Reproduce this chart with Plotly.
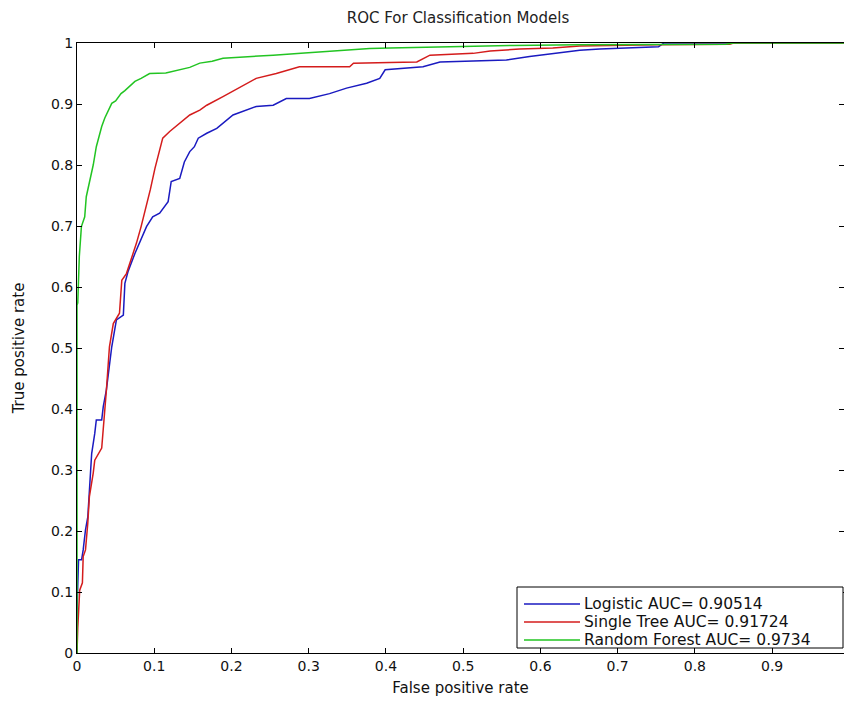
import plotly.graph_objects as go

# ---- data ----
logistic_fpr = [0, 0, 0.002, 0.006, 0.008, 0.011, 0.014, 0.016, 0.019, 0.023, 0.025, 0.032, 0.034, 0.038,
                0.042, 0.045, 0.051, 0.060, 0.062, 0.066, 0.075, 0.083, 0.090, 0.098, 0.107, 0.118, 0.122,
                0.133, 0.139, 0.146, 0.152, 0.157, 0.168, 0.181, 0.202, 0.232, 0.254, 0.271, 0.301, 0.327,
                0.349, 0.375, 0.392, 0.399, 0.418, 0.448, 0.470, 0.556, 0.586, 0.617, 0.651, 0.677, 0.720,
                0.753, 0.76, 1.0]
logistic_tpr = [0, 0.07, 0.153, 0.153, 0.169, 0.202, 0.223, 0.267, 0.327, 0.360, 0.382, 0.382, 0.404, 0.431,
                0.469, 0.502, 0.546, 0.554, 0.606, 0.625, 0.655, 0.677, 0.699, 0.715, 0.721, 0.740, 0.773,
                0.778, 0.805, 0.822, 0.830, 0.844, 0.852, 0.860, 0.882, 0.896, 0.898, 0.909, 0.909, 0.917,
                0.926, 0.934, 0.942, 0.956, 0.958, 0.961, 0.969, 0.972, 0.978, 0.983, 0.988, 0.990, 0.992,
                0.994, 1.0, 1.0]

tree_fpr = [0, 0.001, 0.0035, 0.007, 0.008, 0.011, 0.014, 0.016, 0.021, 0.023, 0.032, 0.034, 0.036, 0.038,
            0.042, 0.047, 0.055, 0.058, 0.064, 0.070, 0.077, 0.083, 0.090, 0.095, 0.101, 0.107, 0.111, 0.120,
            0.133, 0.146, 0.159, 0.168, 0.189, 0.209, 0.232, 0.258, 0.280, 0.288, 0.353, 0.358, 0.405, 0.44,
            0.457, 0.513, 0.535, 0.573, 0.616, 0.651, 0.75, 0.845, 0.85, 1.0]
tree_tpr = [0, 0.041, 0.103, 0.115, 0.158, 0.169, 0.213, 0.256, 0.295, 0.316, 0.336, 0.366, 0.409, 0.430,
            0.502, 0.540, 0.557, 0.611, 0.622, 0.644, 0.672, 0.699, 0.734, 0.760, 0.795, 0.822, 0.844, 0.855,
            0.868, 0.882, 0.890, 0.898, 0.912, 0.926, 0.942, 0.950, 0.958, 0.961, 0.961, 0.967, 0.968, 0.969,
            0.980, 0.983, 0.987, 0.990, 0.992, 0.995, 0.997, 0.998, 1.0, 1.0]

forest_fpr = [0, 0, 0.001, 0.003, 0.0057, 0.010, 0.012, 0.015, 0.019, 0.021, 0.025, 0.029, 0.032, 0.036,
              0.042, 0.045, 0.050, 0.057, 0.062, 0.070, 0.075, 0.083, 0.094, 0.115, 0.133, 0.146, 0.159,
              0.175, 0.189, 0.22, 0.254, 0.29, 0.319, 0.35, 0.379, 0.405, 0.45, 0.5, 0.565, 0.65, 0.75,
              0.84, 0.85, 1.0]
forest_tpr = [0, 0.57, 0.574, 0.65, 0.699, 0.715, 0.748, 0.765, 0.786, 0.800, 0.830, 0.850, 0.863, 0.877,
              0.895, 0.901, 0.905, 0.917, 0.922, 0.931, 0.937, 0.942, 0.950, 0.951, 0.956, 0.960, 0.967,
              0.970, 0.975, 0.977, 0.980, 0.983, 0.986, 0.988, 0.991, 0.992, 0.993, 0.995, 0.996, 0.997,
              0.998, 0.998, 1.0, 1.0]

series_names = ["Logistic AUC= 0.90514", "Single Tree AUC= 0.91724", "Random Forest AUC= 0.9734"]
series_colors = ["#1a1ac0", "#d41c1c", "#22c422"]

x_ticks = [0, 0.1, 0.2, 0.3, 0.4, 0.5, 0.6, 0.7, 0.8, 0.9]
x_tick_labels = ["0", "0.1", "0.2", "0.3", "0.4", "0.5", "0.6", "0.7", "0.8", "0.9"]
y_ticks = [0, 0.1, 0.2, 0.3, 0.4, 0.5, 0.6, 0.7, 0.8, 0.9, 1.0]
y_tick_labels = ["0", "0.1", "0.2", "0.3", "0.4", "0.5", "0.6", "0.7", "0.8", "0.9", "1"]

FONT = "DejaVu Sans, Liberation Sans, Arial, sans-serif"

# plot-area geometry (pixels) used to place the legend box in paper coordinates
W, H = 844, 707
ML, MR, MT, MB = 77, 0, 43, 54
PW, PH = W - ML - MR, H - MT - MB


def px_x(px):
    return (px - ML) / PW


def px_y(py):
    return (H - MB - py) / PH


fig = go.Figure()
for fpr, tpr, name, color in zip([logistic_fpr, tree_fpr, forest_fpr],
                                 [logistic_tpr, tree_tpr, forest_tpr],
                                 series_names, series_colors):
    fig.add_trace(go.Scatter(x=fpr, y=tpr, mode="lines", name=name,
                             line=dict(color=color, width=1.5), showlegend=False))

# empty helper trace so the right-hand tick axis exists
fig.add_trace(go.Scatter(x=[], y=[], yaxis="y2", showlegend=False, hoverinfo="skip"))

# legend box (MATLAB style)
shapes = [dict(type="rect", xref="paper", yref="paper",
               x0=px_x(517), x1=px_x(843), y0=px_y(648), y1=px_y(587),
               line=dict(color="black", width=1), fillcolor="white", layer="above")]
annotations = []
row_y = [604, 622, 640]
for name, color, ry in zip(series_names, series_colors, row_y):
    shapes.append(dict(type="line", xref="paper", yref="paper",
                       x0=px_x(524), x1=px_x(580), y0=px_y(ry), y1=px_y(ry),
                       line=dict(color=color, width=1.5), layer="above"))
    annotations.append(dict(xref="paper", yref="paper", x=px_x(582), y=px_y(ry),
                            text=name, showarrow=False, xanchor="left", yanchor="middle",
                            font=dict(family=FONT, size=15.5, color="#111111")))

fig.update_layout(
    width=W, height=H,
    margin=dict(l=ML, r=MR, t=MT, b=MB),
    paper_bgcolor="white", plot_bgcolor="white",
    title=dict(text="ROC For Classification Models", x=458 / W, xanchor="center",
               y=1 - 18 / H, yanchor="middle",
               font=dict(family=FONT, size=15, color="#222222")),
    font=dict(family=FONT, size=14, color="#111111"),
    xaxis=dict(range=[0, 0.9931], tickvals=x_ticks, ticktext=x_tick_labels,
               ticks="inside", ticklen=5, tickcolor="black", tickwidth=1,
               showline=True, linecolor="black", linewidth=1, mirror="ticks",
               showgrid=False, zeroline=False,
               tickfont=dict(size=14),
               title=dict(text="False positive rate", font=dict(size=15), standoff=9)),
    yaxis=dict(range=[0, 1], tickvals=y_ticks, ticktext=y_tick_labels,
               ticks="inside", ticklen=5, tickcolor="black", tickwidth=1,
               showline=True, linecolor="black", linewidth=1, mirror=False,
               showgrid=False, zeroline=False,
               tickfont=dict(size=14),
               title=dict(text="True positive rate", font=dict(size=15), standoff=22)),
    yaxis2=dict(range=[0, 1], tickvals=y_ticks, overlaying="y", side="right",
                ticks="inside", ticklen=5, tickcolor="black", showticklabels=False,
                showline=False, showgrid=False, zeroline=False),
    shapes=shapes,
    annotations=annotations,
    showlegend=False,
)

fig.write_html("out.html")
